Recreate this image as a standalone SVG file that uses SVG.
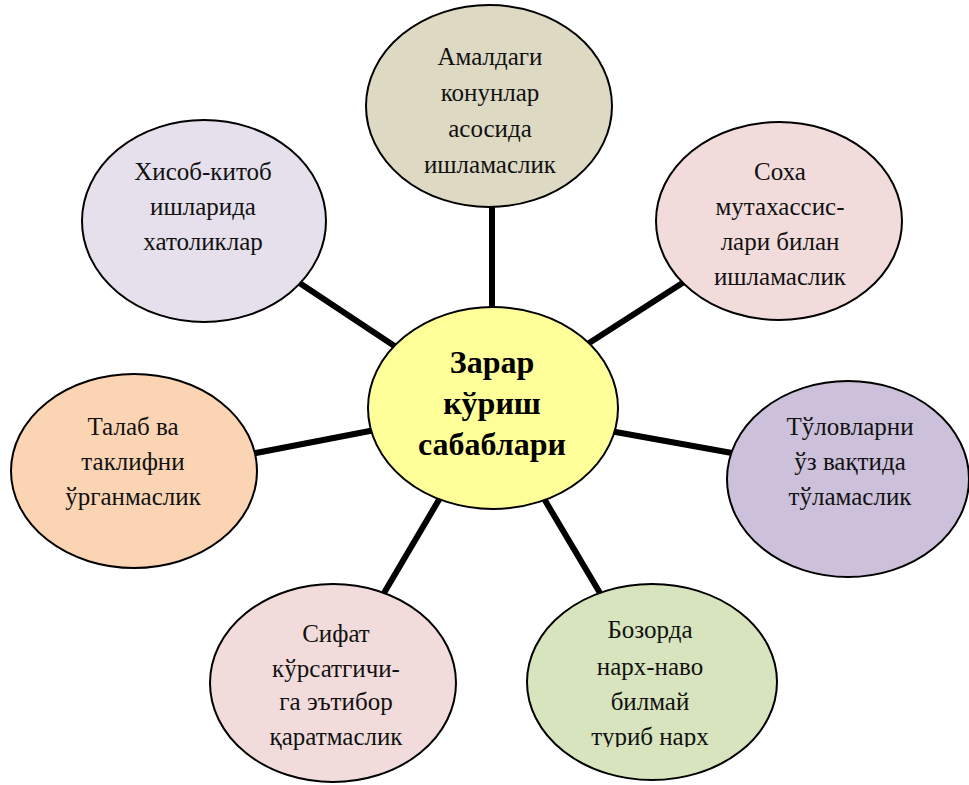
<svg xmlns="http://www.w3.org/2000/svg" width="969" height="785" viewBox="0 0 969 785">
<style>
.el{stroke:#000;stroke-width:2}
.t{font-family:"Liberation Serif","Times New Roman",serif;font-size:25px;fill:#111;text-anchor:middle}
.c{font-family:"Liberation Serif","Times New Roman",serif;font-size:32px;font-weight:bold;fill:#000;text-anchor:middle}
.ln{stroke:#000;stroke-width:6;stroke-linecap:butt}
</style>
<defs>
<clipPath id="clipB"><rect x="520" y="580" width="270" height="167"/></clipPath>
</defs>
<rect width="969" height="785" fill="#fff"/>
<g id="connectors">
<line class="ln" x1="492" y1="200" x2="492" y2="312"/>
<line class="ln" x1="298" y1="282" x2="399" y2="349"/>
<line class="ln" x1="684" y1="282" x2="586" y2="345"/>
<line class="ln" x1="251" y1="454" x2="375" y2="430"/>
<line class="ln" x1="610" y1="431" x2="732" y2="453"/>
<line class="ln" x1="440" y1="498" x2="384" y2="593"/>
<line class="ln" x1="543" y1="497" x2="600" y2="593"/>
</g>
<g id="center">
<ellipse class="el" cx="493" cy="408" rx="125" ry="101" fill="#FFFF99"/>
<text class="c" x="492" y="373">Зарар</text>
<text class="c" x="492" y="414">кўриш</text>
<text class="c" x="492" y="455">сабаблари</text>
</g>
<g id="n-top">
<ellipse class="el" cx="489" cy="106" rx="123" ry="101" fill="#DDD9C3"/>
<text class="t" x="490" y="65">Амалдаги</text>
<text class="t" x="490" y="101">конунлар</text>
<text class="t" x="490" y="137">асосида</text>
<text class="t" x="490" y="173">ишламаслик</text>
</g>
<g id="n-hisob">
<ellipse class="el" cx="204" cy="221" rx="122" ry="101" fill="#E5E0EC"/>
<text class="t" x="203" y="180">Хисоб-китоб</text>
<text class="t" x="203" y="215">ишларида</text>
<text class="t" x="203" y="250">хатоликлар</text>
</g>
<g id="n-soha">
<ellipse class="el" cx="779" cy="221" rx="123" ry="99" fill="#F2DCDB"/>
<text class="t" x="780" y="180">Соха</text>
<text class="t" x="780" y="215">мутахассис-</text>
<text class="t" x="780" y="250">лари билан</text>
<text class="t" x="780" y="285">ишламаслик</text>
</g>
<g id="n-talab">
<ellipse class="el" cx="134" cy="471" rx="123" ry="97" fill="#FBD4B4"/>
<text class="t" x="133" y="435">Талаб ва</text>
<text class="t" x="133" y="470">таклифни</text>
<text class="t" x="133" y="505">ўрганмаслик</text>
</g>
<g id="n-tulov">
<ellipse class="el" cx="848" cy="479" rx="121" ry="98" fill="#CCC0DA"/>
<text class="t" x="850" y="435">Тўловларни</text>
<text class="t" x="850" y="470">ўз вақтида</text>
<text class="t" x="850" y="505">тўламаслик</text>
</g>
<g id="n-sifat">
<ellipse class="el" cx="333" cy="683" rx="123" ry="99" fill="#F2DCDB"/>
<text class="t" x="336" y="642">Сифат</text>
<text class="t" x="336" y="677">кўрсатгичи-</text>
<text class="t" x="336" y="710">га эътибор</text>
<text class="t" x="336" y="745">қаратмаслик</text>
</g>
<g id="n-bozor">
<ellipse class="el" cx="652" cy="682" rx="125" ry="98" fill="#D7E4BD"/>
<g clip-path="url(#clipB)">
<text class="t" x="650" y="638">Бозорда</text>
<text class="t" x="650" y="675">нарх-наво</text>
<text class="t" x="650" y="710">билмай</text>
<text class="t" x="650" y="745">туриб нарх</text>
</g>
</g>
</svg>
